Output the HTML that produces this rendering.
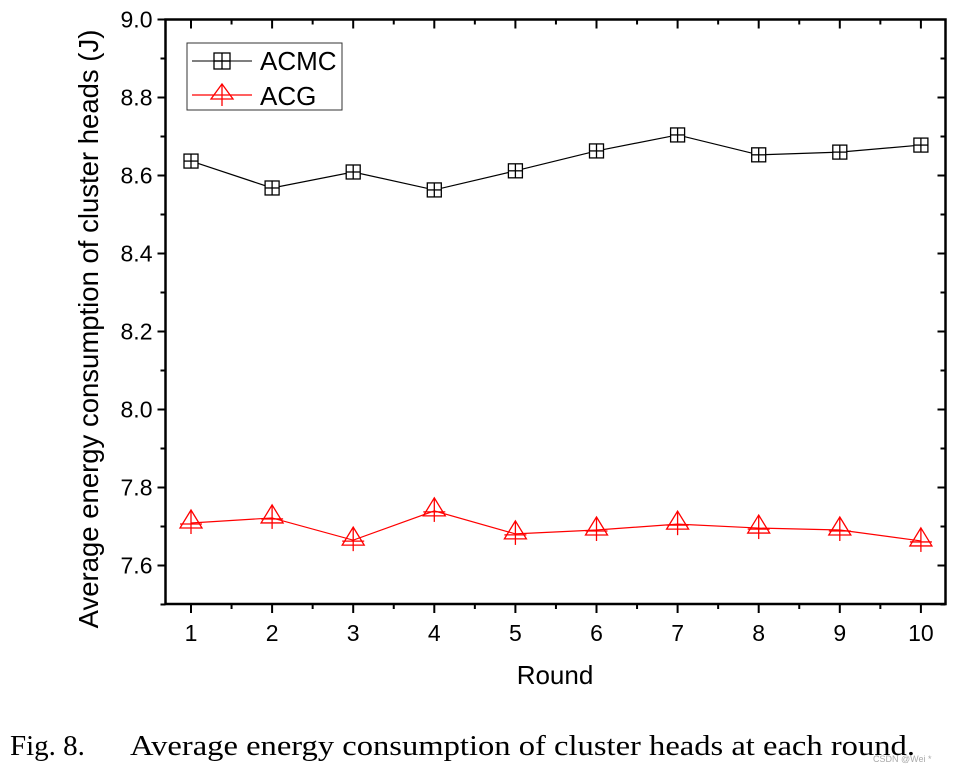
<!DOCTYPE html>
<html><head><meta charset="utf-8"><style>
body{margin:0;background:#fff;}
svg text{font-family:"Liberation Sans",sans-serif;}
</style></head><body>
<svg width="956" height="773" viewBox="0 0 956 773">
<g id="axes"></g>
<g id="series"></g>
<g>
<rect x="187" y="43" width="155" height="67" fill="#fff" stroke="#333" stroke-width="1"/>
<line x1="192" y1="61" x2="252" y2="61" stroke="#333" stroke-width="1.2"/>
<rect x="214" y="53" width="16" height="16" fill="none" stroke="#000" stroke-width="1.3"/>
<line x1="222" y1="53" x2="222" y2="69" stroke="#000" stroke-width="1.3"/>
<line x1="214" y1="61" x2="230" y2="61" stroke="#000" stroke-width="1.3"/>
<text x="260" y="70" font-size="26">ACMC</text>
<line x1="192" y1="95" x2="252" y2="95" stroke="#f00" stroke-width="1.2"/>
<polygon points="222,84 233,99 211,99" fill="none" stroke="#f00" stroke-width="1.3"/>
<line x1="222" y1="84" x2="222" y2="106" stroke="#f00" stroke-width="1.3"/>
<text x="260" y="105" font-size="26">ACG</text>
</g>
<text x="555" y="684" font-size="26" text-anchor="middle">Round</text>
<text transform="translate(98,329) rotate(-90)" font-size="27.5" text-anchor="middle">Average energy consumption of cluster heads (J)</text>
<text x="10" y="755" font-size="29" style="font-family:'Liberation Serif',serif">Fig. 8.</text>
<text x="130" y="755" font-size="29" textLength="785" lengthAdjust="spacingAndGlyphs" style="font-family:'Liberation Serif',serif">Average energy consumption of cluster heads at each round.</text>
<text x="873" y="762" font-size="9" fill="#aaa">CSDN @Wei *</text>
</svg>
<script>
const rounds=[1,2,3,4,5,6,7,8,9,10];
const acmc=[8.637,8.568,8.609,8.563,8.612,8.663,8.704,8.653,8.660,8.678];
const acg=[7.709,7.722,7.665,7.740,7.681,7.691,7.706,7.696,7.691,7.663];
const yTicks=[7.6,7.8,8.0,8.2,8.4,8.6,8.8,9.0];
const xTicks=[1,2,3,4,5,6,7,8,9,10];
const NS="http://www.w3.org/2000/svg";
const L=165.5,R=945.5,T=19.5,B=604;
const X=v=>191+(v-1)*81.1;
const Y=v=>19.5+(9-v)*390;
function mk(tag,at,parent){const e=document.createElementNS(NS,tag);for(const k in at)e.setAttribute(k,at[k]);parent.appendChild(e);return e;}
const ax=document.getElementById('axes');
const frame=mk('rect',{x:L,y:T,width:R-L,height:B-T,fill:'none',stroke:'#000','stroke-width':2.5},ax);


for(let v=7.5;v<=9.001;v+=0.1){
  const y=Y(v);const major=Math.abs(Math.round(v*10)%2)===0;
  mk('line',{x1:L-(major?8:5),y1:y,x2:L,y2:y,stroke:'#000','stroke-width':2},ax);
  mk('line',{x1:R,y1:y,x2:R-(major?8:5),y2:y,stroke:'#000','stroke-width':2},ax);
}
yTicks.forEach(v=>{
  const t=mk('text',{x:L-13,y:Y(v)+8,'font-size':23,'text-anchor':'end'},ax);
  t.textContent=v.toFixed(1);
  
  
});
for(let v=0.5;v<=10.5;v+=0.5){
  const x=X(v);if(x<L||x>R)continue;const major=Number.isInteger(v);
  mk('line',{x1:x,y1:B,x2:x,y2:B+(major?9:5),stroke:'#000','stroke-width':2},ax);
  mk('line',{x1:x,y1:T,x2:x,y2:T+(major?9:5),stroke:'#000','stroke-width':2},ax);
}
xTicks.forEach(v=>{
  const t=mk('text',{x:X(v),y:641,'font-size':23,'text-anchor':'middle'},ax);
  t.textContent=v;
  
  
});
const sg=document.getElementById('series');
const p1=mk('polyline',{points:rounds.map((r,i)=>X(r)+','+Y(acmc[i])).join(' '),fill:'none',stroke:'#000','stroke-width':1.2},sg);


const p2=mk('polyline',{points:rounds.map((r,i)=>X(r)+','+Y(acg[i])).join(' '),fill:'none',stroke:'#f00','stroke-width':1.2},sg);


rounds.forEach((r,i)=>{
  const x=X(r),y=Y(acmc[i]);
  const g=mk('g',{stroke:'#000','stroke-width':1.3,fill:'none'},sg);
  
  
  mk('rect',{x:x-7,y:y-7,width:14,height:14,fill:'#fff'},g);
  mk('line',{x1:x,y1:y-7,x2:x,y2:y+7},g);
  mk('line',{x1:x-7,y1:y,x2:x+7,y2:y},g);
  const y2=Y(acg[i]);
  const g2=mk('g',{stroke:'#f00','stroke-width':1.3,fill:'none'},sg);
  
  
  mk('polygon',{points:`${x},${y2-13} ${x+11},${y2+5} ${x-11},${y2+5}`},g2);
  mk('line',{x1:x,y1:y2-13,x2:x,y2:y2+11},g2);
  mk('line',{x1:x-11,y1:y2+1,x2:x+11,y2:y2+1},g2);
});
</script>
</body></html>
